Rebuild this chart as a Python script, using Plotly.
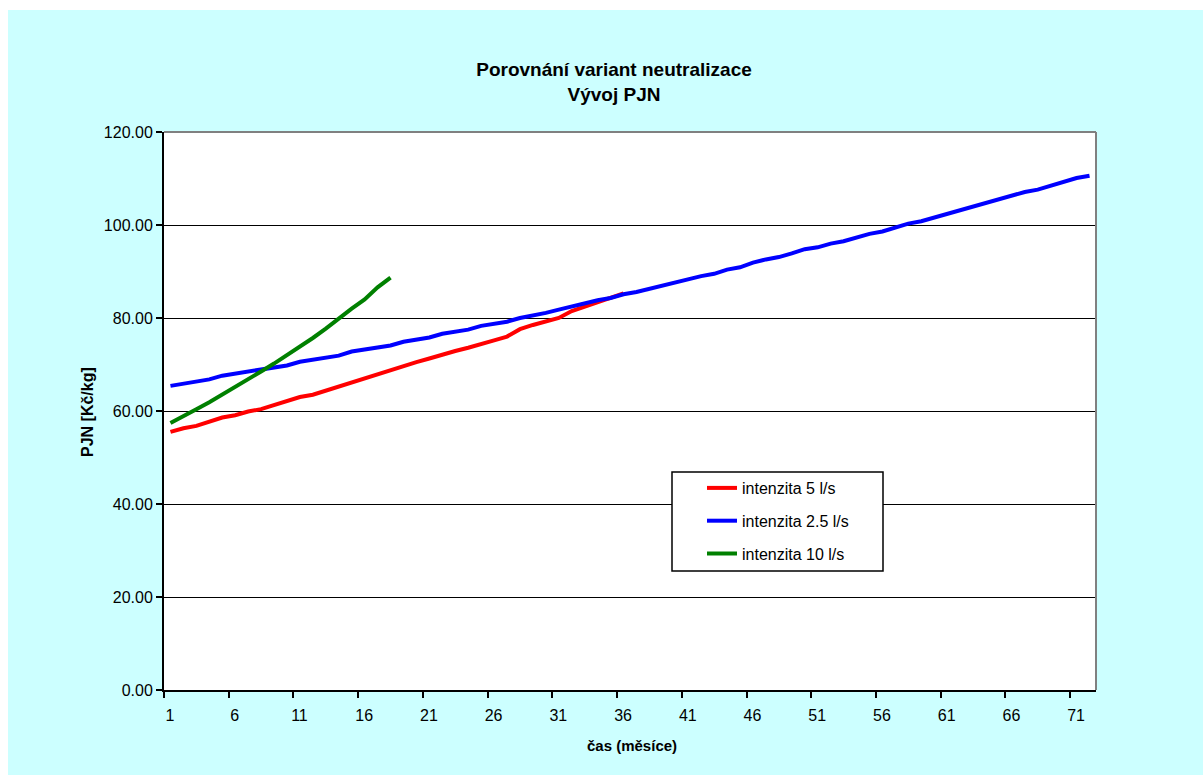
import plotly.graph_objects as go

# Monthly PJN values [Kč/kg] for three neutralisation intensities
months_5 = list(range(1, 37))
pjn_5 = [55.5, 56.3, 56.8, 57.8, 58.6, 59.1, 59.9, 60.4, 61.2, 62.2,
         63.0, 63.5, 64.4, 65.3, 66.2, 67.0, 67.9, 68.8, 69.6, 70.5,
         71.3, 72.2, 72.9, 73.6, 74.5, 75.2, 76.0, 77.6, 78.5, 79.2,
         80.0, 81.5, 82.4, 83.3, 84.4, 85.3]

months_25 = list(range(1, 73))
pjn_25 = [65.4, 65.9, 66.3, 66.8, 67.6, 68.0, 68.4, 68.8, 69.3, 69.8,
          70.6, 71.0, 71.5, 71.9, 72.8, 73.2, 73.6, 74.1, 74.9, 75.3,
          75.8, 76.6, 77.1, 77.5, 78.3, 78.7, 79.2, 80.0, 80.5, 81.1,
          81.8, 82.5, 83.0, 83.8, 84.3, 85.1, 85.6, 86.3, 86.9, 87.8,
          88.3, 89.0, 89.5, 90.4, 90.9, 91.9, 92.6, 93.1, 93.9, 94.8,
          95.2, 96.0, 96.5, 97.3, 98.1, 98.6, 99.5, 100.3, 100.8, 101.6,
          102.4, 103.2, 103.8, 104.6, 105.5, 106.3, 107.1, 107.6, 108.5, 109.3,
          110.1, 110.6]

months_10 = list(range(1, 19))
pjn_10 = [57.4, 58.8, 60.4, 61.9, 63.5, 65.2, 66.8, 68.5, 70.2, 72.0,
          73.8, 75.7, 77.7, 79.9, 82.0, 84.0, 86.6, 88.7]

x_tick_labels = [str(m) for m in range(1, 72, 5)]
y_ticks = [0, 20, 40, 60, 80, 100, 120]

W, H = 1203, 775
L, R, T, B = 164, 1096, 132, 690          # plot area in pixels
PW, PH = R - L, B - T


def px_x(p):
    return (p - L) / PW


def px_y(p):
    return (B - p) / PH


FONT = "Liberation Sans, Arial, sans-serif"
BG = "#CCFFFF"

fig = go.Figure()
series = [
    ("intenzita 5 l/s", months_5, pjn_5, "#FF0000"),
    ("intenzita 2.5 l/s", months_25, pjn_25, "#0000FF"),
    ("intenzita 10 l/s", months_10, pjn_10, "#008000"),
]
for name, xs, ys, col in series:
    fig.add_trace(go.Scatter(
        x=xs, y=ys, name=name, mode="lines", legendgroup=name,
        line=dict(color=col, width=4),
    ))

shapes = [
    # white frame strips on the top and left edge of the page
    dict(type="rect", xref="paper", yref="paper",
         x0=px_x(0), x1=px_x(8), y0=px_y(H), y1=px_y(0),
         fillcolor="white", line=dict(width=0), layer="below"),
    dict(type="rect", xref="paper", yref="paper",
         x0=px_x(0), x1=px_x(W), y0=px_y(10), y1=px_y(0),
         fillcolor="white", line=dict(width=0), layer="below"),
    # grey top and right border of the plot area
    dict(type="line", xref="paper", yref="paper", x0=0, x1=1, y0=1, y1=1,
         line=dict(color="#808080", width=2), layer="above"),
    dict(type="line", xref="paper", yref="paper", x0=1, x1=1, y0=0, y1=1,
         line=dict(color="#808080", width=2), layer="above"),
    # legend frame
    dict(type="rect", xref="paper", yref="paper",
         x0=px_x(672), x1=px_x(883), y0=px_y(571), y1=px_y(472),
         fillcolor="white", line=dict(color="black", width=1.5), layer="above"),
]

annotations = [
    dict(text="<b>čas (měsíce)</b>", xref="paper", yref="paper",
         x=px_x(632), y=px_y(745), showarrow=False,
         xanchor="center", yanchor="middle",
         font=dict(family=FONT, size=15, color="black")),
    dict(text="<b>PJN [Kč/kg]</b>", xref="paper", yref="paper",
         x=px_x(87), y=px_y(412), showarrow=False, textangle=-90,
         xanchor="center", yanchor="middle",
         font=dict(family=FONT, size=16, color="black")),
]

fig.update_layout(
    width=W, height=H,
    margin=dict(l=L, r=W - R, t=T, b=H - B, pad=0),
    paper_bgcolor=BG, plot_bgcolor="white",
    title=dict(
        text="<b>Porovnání variant neutralizace<br>Vývoj PJN</b>",
        x=px_x(614), xref="paper", xanchor="center",
        y=1 - 76 / H, yref="container", yanchor="top",
        font=dict(family=FONT, size=19, color="black"),
    ),
    xaxis=dict(
        range=[0.5, 72.5],
        tickvals=[v - 0.5 for v in range(1, 72, 5)],
        ticktext=x_tick_labels,
        ticklabelshift=6,
        ticklabelstandoff=4,
        ticks="outside", ticklen=6, tickwidth=2, tickcolor="black",
        showline=True, linecolor="black", linewidth=2,
        showgrid=False, zeroline=False,
        tickfont=dict(family=FONT, size=16, color="black"),
    ),
    yaxis=dict(
        range=[0, 120],
        tickvals=y_ticks,
        ticktext=[f"{v:.2f}" for v in y_ticks],
        ticks="outside", ticklen=6, tickwidth=2, tickcolor="black",
        showline=True, linecolor="black", linewidth=2,
        showgrid=True, gridcolor="black", gridwidth=1,
        zeroline=False,
        tickfont=dict(family=FONT, size=16, color="black"),
    ),
    legend=dict(
        x=px_x(702), y=px_y(471), xanchor="left", yanchor="top",
        bgcolor="rgba(0,0,0,0)", borderwidth=0,
        font=dict(family=FONT, size=16, color="black"),
        tracegroupgap=9, itemwidth=30,
    ),
    shapes=shapes,
    annotations=annotations,
)

fig.write_html("out.html")
